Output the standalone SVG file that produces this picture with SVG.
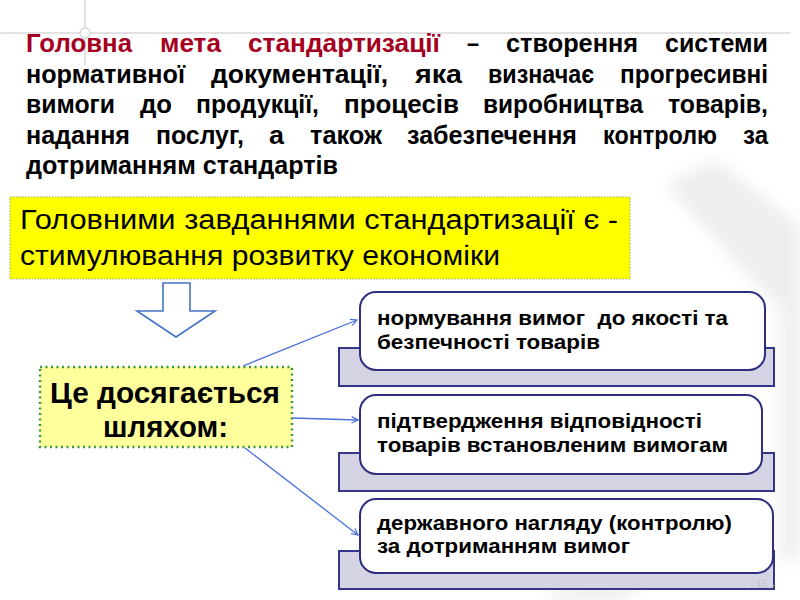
<svg xmlns="http://www.w3.org/2000/svg" width="800" height="600" viewBox="0 0 800 600">
<defs>
<style>
.t{font-family:"Liberation Sans",Arial,sans-serif;font-weight:bold;font-size:26px;fill:#000}
.r{fill:#a50021}
.y{font-family:"Liberation Sans",Arial,sans-serif;font-size:27px;fill:#000}
.g{font-family:"Liberation Sans",Arial,sans-serif;font-weight:bold;font-size:30px;fill:#000}
.b{font-family:"Liberation Sans",Arial,sans-serif;font-weight:bold;font-size:20px;fill:#000}
.sh{fill:#d4d4e4;stroke:#35358a;stroke-width:2}
.wb{fill:#fff;stroke:#2f2f7f;stroke-width:2}
.con{fill:none;stroke:#4a6fdc;stroke-width:1.3;marker-end:url(#ah)}
</style>
<marker id="ah" viewBox="0 0 10 10" refX="9" refY="5" markerWidth="8" markerHeight="8" markerUnits="userSpaceOnUse" orient="auto">
<path d="M1,1 L9,5 L1,9" fill="none" stroke="#4a6fdc" stroke-width="1.5"/>
</marker>
<filter id="blur" x="-20%" y="-20%" width="140%" height="140%"><feGaussianBlur stdDeviation="8"/></filter>
</defs>
<rect width="800" height="600" fill="#fff"/>
<g id="background" filter="url(#blur)" fill="#eeeeee">
<polygon points="665,185 715,160 800,225 800,330"/>
<polygon points="780,280 800,280 800,560 780,560"/>
<polygon points="540,600 620,600 700,540 640,540"/>
</g>
<g id="deco" stroke="#d8d8d8" stroke-width="1.5" fill="none">
<line x1="0" y1="33" x2="790" y2="33"/>
<line x1="85" y1="0" x2="85" y2="65"/>
<circle cx="85" cy="33" r="5" fill="#fff"/>
</g>
<g id="title">
<text class="t" y="52"><tspan class="r" x="26" textLength="106" lengthAdjust="spacingAndGlyphs">Головна</tspan><tspan class="r" x="160" textLength="61" lengthAdjust="spacingAndGlyphs">мета</tspan><tspan class="r" x="248" textLength="192" lengthAdjust="spacingAndGlyphs">стандартизації</tspan><tspan x="467" textLength="12" lengthAdjust="spacingAndGlyphs">–</tspan><tspan x="506" textLength="132" lengthAdjust="spacingAndGlyphs">створення</tspan><tspan x="665" textLength="103" lengthAdjust="spacingAndGlyphs">системи</tspan></text>
<text class="t" y="82.5"><tspan x="26" textLength="159" lengthAdjust="spacingAndGlyphs">нормативної</tspan><tspan x="211" textLength="177" lengthAdjust="spacingAndGlyphs">документації,</tspan><tspan x="415" textLength="47" lengthAdjust="spacingAndGlyphs">яка</tspan><tspan x="488" textLength="106" lengthAdjust="spacingAndGlyphs">визначає</tspan><tspan x="620" textLength="148" lengthAdjust="spacingAndGlyphs">прогресивні</tspan></text>
<text class="t" y="113"><tspan x="26" textLength="89" lengthAdjust="spacingAndGlyphs">вимоги</tspan><tspan x="140" textLength="32" lengthAdjust="spacingAndGlyphs">до</tspan><tspan x="196" textLength="123" lengthAdjust="spacingAndGlyphs">продукції,</tspan><tspan x="344" textLength="115" lengthAdjust="spacingAndGlyphs">процесів</tspan><tspan x="483" textLength="160" lengthAdjust="spacingAndGlyphs">виробництва</tspan><tspan x="668" textLength="100" lengthAdjust="spacingAndGlyphs">товарів,</tspan></text>
<text class="t" y="143.5"><tspan x="26" textLength="104" lengthAdjust="spacingAndGlyphs">надання</tspan><tspan x="156" textLength="88" lengthAdjust="spacingAndGlyphs">послуг,</tspan><tspan x="269" textLength="15" lengthAdjust="spacingAndGlyphs">а</tspan><tspan x="310" textLength="72" lengthAdjust="spacingAndGlyphs">також</tspan><tspan x="407" textLength="170" lengthAdjust="spacingAndGlyphs">забезпечення</tspan><tspan x="603" textLength="114" lengthAdjust="spacingAndGlyphs">контролю</tspan><tspan x="743" textLength="25" lengthAdjust="spacingAndGlyphs">за</tspan></text>
<text class="t" y="174"><tspan x="26" textLength="312" lengthAdjust="spacingAndGlyphs">дотриманням стандартів</tspan></text>
</g>
<g id="tasks">
<rect x="10" y="197" width="620" height="82" fill="#ffff00" stroke="#a0a070" stroke-width="1" stroke-dasharray="1.5,1.5"/>
<text class="y" x="20" y="229" textLength="598" lengthAdjust="spacingAndGlyphs">Головними завданнями стандартизації є -</text>
<text class="y" x="20" y="265" textLength="480" lengthAdjust="spacingAndGlyphs">стимулювання розвитку економіки</text>
</g>
<g id="down-arrow">
<polygon points="163,283 190,283 190,311 215,311 176,337 137,311 163,311" fill="#fff" stroke="#4472c4" stroke-width="1.6" stroke-linejoin="miter"/>
</g>
<g id="means">
<rect x="40" y="367" width="252" height="80" fill="#ffff9c" stroke="#3a9a3a" stroke-width="2.5" stroke-dasharray="2,3.5"/>
<text class="g" x="50" y="403" textLength="230" lengthAdjust="spacingAndGlyphs">Це досягається</text>
<text class="g" x="103" y="437" textLength="125" lengthAdjust="spacingAndGlyphs">шляхом:</text>
</g>
<g id="connectors">
<line class="con" x1="243" y1="366" x2="357" y2="320"/>
<line class="con" x1="292" y1="418" x2="358" y2="420"/>
<line class="con" x1="245" y1="448" x2="358" y2="535"/>
</g>
<g id="box1">
<rect class="sh" x="339" y="348" width="435" height="38"/>
<rect class="wb" x="360" y="292" width="405" height="78" rx="16"/>
<text class="b" x="377" y="325" textLength="351" lengthAdjust="spacingAndGlyphs" xml:space="preserve">нормування вимог  до якості та</text>
<text class="b" x="377" y="349" textLength="223" lengthAdjust="spacingAndGlyphs">безпечності товарів</text>
</g>
<g id="box2">
<rect class="sh" x="339" y="453" width="435" height="38"/>
<rect class="wb" x="360" y="395" width="402" height="79" rx="16"/>
<text class="b" x="377" y="428" textLength="325" lengthAdjust="spacingAndGlyphs">підтвердження відповідності</text>
<text class="b" x="377" y="452" textLength="351" lengthAdjust="spacingAndGlyphs">товарів встановленим вимогам</text>
</g>
<g id="box3">
<rect class="sh" x="339" y="551" width="435" height="38"/>
<rect class="wb" x="360" y="499" width="413" height="74" rx="16"/>
<text class="b" x="377" y="530" textLength="355" lengthAdjust="spacingAndGlyphs">державного нагляду (контролю)</text>
<text class="b" x="377" y="553" textLength="253" lengthAdjust="spacingAndGlyphs">за дотриманням вимог</text>
</g>
<text x="762" y="588" text-anchor="middle" font-family="Liberation Sans, Arial, sans-serif" font-size="11" fill="#c4c4c4">- 15 -</text>
</svg>
